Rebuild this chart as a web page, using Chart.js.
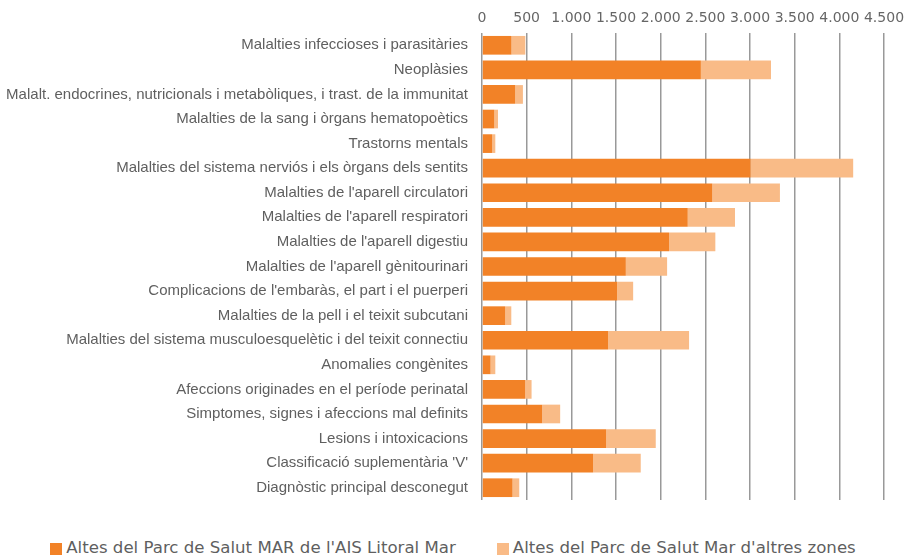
<!DOCTYPE html>
<html>
<head>
<meta charset="utf-8">
<script src="https://cdn.jsdelivr.net/npm/chart.js@4"></script>
<style>
  html, body { margin: 0; padding: 0; background: #fff; }
  body { width: 906px; height: 556px; overflow: hidden; font-family: "DejaVu Sans", sans-serif; }
  #wrap { position: relative; width: 906px; height: 522px; }
  #legend { display: flex; justify-content: center; gap: 41px; margin-top: 18px; color: #5f5f5f; font-size: 16.6px; line-height: 16px; }
  #legend .item { display: flex; align-items: center; }
  #legend .box { width: 12px; height: 12px; margin-right: 4px; margin-top: 1px; }
</style>
</head>
<body>
<div id="wrap"><canvas id="altes"></canvas></div>
<div id="legend"></div>
<script>
const categories = [
  "Malalties infeccioses i parasitàries",
  "Neoplàsies",
  "Malalt. endocrines, nutricionals i metabòliques, i trast. de la immunitat",
  "Malalties de la sang i òrgans hematopoètics",
  "Trastorns mentals",
  "Malalties del sistema nerviós i els òrgans dels sentits",
  "Malalties de l'aparell circulatori",
  "Malalties de l'aparell respiratori",
  "Malalties de l'aparell digestiu",
  "Malalties de l'aparell gènitourinari",
  "Complicacions de l'embaràs, el part i el puerperi",
  "Malalties de la pell i el teixit subcutani",
  "Malalties del sistema musculoesquelètic i del teixit connectiu",
  "Anomalies congènites",
  "Afeccions originades en el període perinatal",
  "Simptomes, signes i afeccions mal definits",
  "Lesions i intoxicacions",
  "Classificació suplementària 'V'",
  "Diagnòstic principal desconegut"
];

// altes de residents a l'AIS Litoral Mar
const altesLitoral = [330, 2450, 372, 138, 115, 3007, 2578, 2303, 2094, 1610, 1513, 260, 1412, 96, 484, 674, 1390, 1244, 342];
// altes de pacients d'altres zones
const altesAltres = [155, 785, 86, 41, 34, 1148, 757, 529, 518, 462, 179, 68, 906, 53, 71, 201, 555, 533, 75];

const seriesNames = [
  "Altes del Parc de Salut MAR de l'AIS Litoral Mar",
  "Altes del Parc de Salut Mar d'altres zones"
];

const xMax = 4500;
const xStep = 500;

const fmt = v => String(v).replace(/\B(?=(\d{3})+(?!\d))/g, '.');

const chart = new Chart(document.getElementById('altes'), {
  type: 'bar',
  data: {
    labels: categories,
    datasets: [
      { label: seriesNames[0], data: altesLitoral, backgroundColor: '#f28227' },
      { label: seriesNames[1], data: altesAltres, backgroundColor: '#f9bb87' }
    ]
  },
  options: {
    indexAxis: 'y',
    responsive: true,
    maintainAspectRatio: false,
    animation: false,
    categoryPercentage: 0.8,
    barPercentage: 0.95,
    layout: { padding: { left: 6, right: 22, top: 8, bottom: 22 } },
    plugins: {
      legend: { display: false },
      tooltip: { enabled: false }
    },
    scales: {
      x: {
        stacked: true,
        position: 'top',
        min: 0,
        max: xMax,
        // fixed axis band; the outer tick labels may overhang the plot
        afterFit: s => { s.height = 25; s.paddingLeft = 0; s.paddingRight = 0; },
        ticks: {
          stepSize: xStep,
          padding: 6,
          minRotation: 0,
          maxRotation: 0,
          autoSkip: false,
          color: '#666',
          font: { family: 'DejaVu Sans', size: 14 },
          callback: v => fmt(v)
        },
        grid: { color: '#999', lineWidth: 1.5, drawTicks: false },
        border: { display: false }
      },
      y: {
        stacked: true,
        afterFit: s => { s.width = 476; },
        ticks: {
          padding: 6,
          color: '#5f5f5f',
          font: { family: 'Liberation Sans', size: 15 },
          autoSkip: false
        },
        grid: { display: false },
        border: { display: false }
      }
    }
  }
});

// legend below the chart, built from the datasets
const legend = document.getElementById('legend');
chart.data.datasets.forEach(ds => {
  const item = document.createElement('div');
  item.className = 'item';
  item.innerHTML = `<span class="box" style="background:${ds.backgroundColor}"></span><span>${ds.label}</span>`;
  legend.appendChild(item);
});
</script>
</body>
</html>
